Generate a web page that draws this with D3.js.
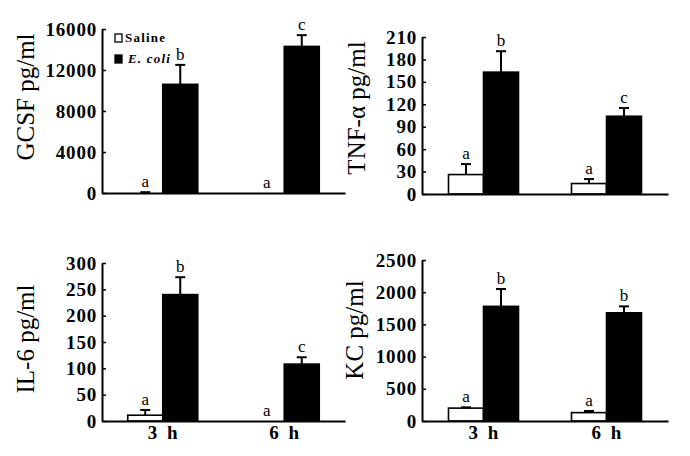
<!DOCTYPE html>
<html>
<head>
<meta charset="utf-8">
<script src="https://cdn.jsdelivr.net/npm/d3@7"></script>
<style>
  body { margin: 0; background: #fff; }
  svg { display: block; font-family: "Liberation Serif", "Times New Roman", serif; }
  svg text { font-family: "Liberation Serif", "Times New Roman", serif; }
</style>
</head>
<body>
<div id="main-container"></div>
<script>
// DATA
const times = ["3 h", "6 h"];
const series = ["Saline", "E. coli"];

const gcsfSaline = [0, 0],      gcsfSalineErr = [80, 0];
const gcsfEcoli = [10600, 14300], gcsfEcoliErr = [1900, 1100];
const gcsfLetters = [["a", "a"], ["b", "c"]];
const gcsfTicks = [0, 4000, 8000, 12000, 16000];

const tnfSaline = [26, 14],     tnfSalineErr = [14, 6];
const tnfEcoli = [163, 104],    tnfEcoliErr = [28, 11];
const tnfLetters = [["a", "a"], ["b", "c"]];
const tnfTicks = [0, 30, 60, 90, 120, 150, 180, 210];

const il6Saline = [11, 0],      il6SalineErr = [10, 0];
const il6Ecoli = [240, 108],    il6EcoliErr = [33, 13];
const il6Letters = [["a", "a"], ["b", "c"]];
const il6Ticks = [0, 50, 100, 150, 200, 250, 300];

const kcSaline = [200, 130],    kcSalineErr = [12, 25];
const kcEcoli = [1780, 1680],   kcEcoliErr = [270, 100];
const kcLetters = [["a", "a"], ["b", "b"]];
const kcTicks = [0, 500, 1000, 1500, 2000, 2500];

const width = 690, height = 456;

const svg = d3.select("#main-container")
    .append("svg")
        .attr("width", width)
        .attr("height", height);

function drawPanel(p) {
    const g = svg.append("g");

    const x0 = d3.scaleBand()
        .domain(times)
        .range([p.left, p.right])
        .padding(0);

    const barW = 35;
    const x1 = d3.scaleBand()
        .domain(series)
        .range([x0.bandwidth() / 2 - barW, x0.bandwidth() / 2 + barW]);

    const y = d3.scaleLinear()
        .domain([0, p.ticks[p.ticks.length - 1]])
        .range([p.bottom, p.top]);

    const rows = [];
    series.forEach((s, si) => {
        times.forEach((t, ti) => {
            rows.push({
                series: s, time: t,
                value: p.values[si][ti],
                err: p.errs[si][ti],
                letter: p.letters[si][ti]
            });
        });
    });

    // bars
    g.selectAll(".bar")
        .data(rows)
        .enter()
        .append("rect")
        .attr("x", d => x0(d.time) + x1(d.series))
        .attr("y", d => y(d.value))
        .attr("width", x1.bandwidth())
        .attr("height", d => y(0) - y(d.value))
        .attr("fill", d => d.series === "Saline" ? "#fff" : "#000")
        .attr("stroke", "#000")
        .attr("stroke-width", 1.6);

    // error bars (upper only)
    const eb = g.selectAll(".err")
        .data(rows.filter(d => d.err > 0))
        .enter()
        .append("g")
        .attr("transform", d => `translate(${x0(d.time) + x1(d.series) + x1.bandwidth() / 2},0)`);
    eb.append("line")
        .attr("y1", d => y(d.value))
        .attr("y2", d => y(d.value + d.err))
        .attr("stroke", "#000")
        .attr("stroke-width", 2);
    eb.append("line")
        .attr("x1", -5).attr("x2", 5)
        .attr("y1", d => y(d.value + d.err))
        .attr("y2", d => y(d.value + d.err))
        .attr("stroke", "#000")
        .attr("stroke-width", 2);

    // significance letters
    g.selectAll(".letter")
        .data(rows)
        .enter()
        .append("text")
        .attr("x", d => x0(d.time) + x1(d.series) + x1.bandwidth() / 2)
        .attr("y", d => y(d.value + d.err) - 5)
        .attr("text-anchor", "middle")
        .style("font-size", "17px")
        .text(d => d.letter);

    // y axis
    const yAxis = g.append("g")
        .attr("transform", `translate(${p.left},0)`)
        .call(d3.axisLeft(y).tickValues(p.ticks).tickFormat(d3.format("d"))
            .tickSizeInner(-4).tickSizeOuter(0).tickPadding(5))
        .attr("font-family", null)
        .attr("font-size", null);
    yAxis.select(".domain").attr("stroke-width", 2);
    yAxis.selectAll(".tick line").attr("stroke-width", 1.5);
    yAxis.selectAll("text")
        .attr("fill", "#000")
        .style("font-size", "19px")
        .style("font-weight", "bold")
        .style("letter-spacing", "0.8px");

    // x axis
    const xAxis = g.append("g")
        .attr("transform", `translate(0,${p.bottom})`)
        .call(d3.axisBottom(x0).tickSize(0).tickPadding(5))
        .attr("font-family", null)
        .attr("font-size", null);
    xAxis.select(".domain").attr("stroke-width", 2);
    xAxis.selectAll("text")
        .attr("fill", "#000")
        .style("font-size", "19px")
        .style("font-weight", "bold")
        .style("word-spacing", "5px")
        .style("visibility", p.showX ? "visible" : "hidden");

    // y label
    g.append("text")
        .attr("transform", `translate(${p.labelX},${p.labelY}) rotate(-90)`)
        .attr("text-anchor", "middle")
        .attr("dy", "0.35em")
        .style("font-size", "25px")
        .text(p.label);

    return g;
}

drawPanel({
    label: "GCSF pg/ml", labelX: 25, labelY: 97,
    left: 102, right: 345, top: 29, bottom: 193,
    ticks: gcsfTicks, showX: false,
    values: [gcsfSaline, gcsfEcoli], errs: [gcsfSalineErr, gcsfEcoliErr], letters: gcsfLetters
});

drawPanel({
    label: "TNF-α pg/ml", labelX: 356, labelY: 108,
    left: 422, right: 668, top: 37, bottom: 194,
    ticks: tnfTicks, showX: false,
    values: [tnfSaline, tnfEcoli], errs: [tnfSalineErr, tnfEcoliErr], letters: tnfLetters
});

drawPanel({
    label: "IL-6 pg/ml", labelX: 25, labelY: 339,
    left: 102, right: 345, top: 263, bottom: 421,
    ticks: il6Ticks, showX: true,
    values: [il6Saline, il6Ecoli], errs: [il6SalineErr, il6EcoliErr], letters: il6Letters
});

drawPanel({
    label: "KC pg/ml", labelX: 354, labelY: 330,
    left: 422, right: 668, top: 260, bottom: 421,
    ticks: kcTicks, showX: true,
    values: [kcSaline, kcEcoli], errs: [kcSalineErr, kcEcoliErr], letters: kcLetters
});

// legend (GCSF panel)
const legend = svg.append("g").attr("transform", "translate(115,0)");
legend.selectAll("rect")
    .data(series)
    .enter()
    .append("rect")
    .attr("x", 0)
    .attr("y", (d, i) => 34 + i * 21)
    .attr("width", 7)
    .attr("height", 8)
    .attr("fill", (d, i) => i === 0 ? "#fff" : "#000")
    .attr("stroke", "#000")
    .attr("stroke-width", 1.3);
legend.selectAll("text")
    .data(series)
    .enter()
    .append("text")
    .attr("x", (d, i) => i === 0 ? 10 : 13)
    .attr("y", (d, i) => 42 + i * 21)
    .style("font-size", "13px")
    .style("font-weight", "bold")
    .style("font-style", (d, i) => i === 0 ? "normal" : "italic")
    .style("letter-spacing", "1.2px")
    .text(d => d);
</script>
</body>
</html>
